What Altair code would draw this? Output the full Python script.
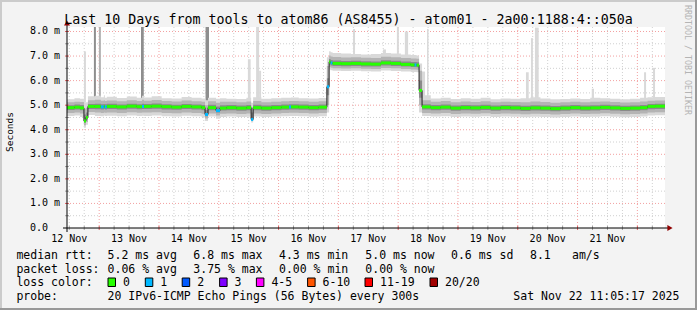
import altair as alt
import pandas as pd

# ---------------- data ----------------
# hours since window start (Nov 12 11:05:17), 10-day window
hours = [0.0, 3.0, 5.2, 6.8, 7.6, 8.4, 11.2, 13.6, 14.8, 15.2,
         16.0, 20.0, 24.0, 28.0, 30.1, 30.9, 34.0, 38.0, 42.0, 46.0,
         50.0, 54.0, 55.4, 56.6, 59.8, 61.4, 64.0, 68.0, 72.0, 73.9,
         74.7, 78.0, 82.0, 86.0, 89.1, 89.9, 93.0, 97.0, 101.0, 104.3,
         105.2, 105.8, 106.6, 110.0, 114.0, 118.0, 122.0, 126.0, 130.0, 134.0,
         138.0, 139.5, 140.3, 141.3, 142.5, 146.0, 150.0, 154.0, 158.0, 162.0,
         166.0, 170.0, 174.0, 178.0, 182.0, 186.0, 190.0, 194.0, 198.0, 202.0,
         206.0, 210.0, 214.0, 218.0, 222.0, 226.0, 230.0, 233.0, 236.0, 240.0]

# median rtt (ms)
median_ms = [4.90, 4.92, 4.89, 4.36, 4.50, 4.95, 4.95, 4.93, 4.95, 4.93,
             4.95, 4.93, 4.96, 4.94, 4.95, 4.95, 4.96, 4.94, 4.92, 4.95,
             4.93, 4.90, 4.62, 4.90, 4.78, 4.88, 4.90, 4.88, 4.90, 4.42,
             4.90, 4.88, 4.90, 4.92, 4.93, 4.93, 4.92, 4.90, 4.92, 5.75,
             6.76, 6.72, 6.70, 6.69, 6.70, 6.68, 6.67, 6.72, 6.70, 6.66,
             6.64, 6.64, 6.63, 5.60, 4.93, 4.90, 4.92, 4.88, 4.90, 4.89,
             4.91, 4.88, 4.90, 4.89, 4.87, 4.89, 4.88, 4.86, 4.88, 4.90,
             4.88, 4.89, 4.91, 4.89, 4.87, 4.88, 4.90, 4.95, 4.96, 4.96]

# loss bucket index (0 = no loss, 1 = 1 of 20 lost, ...)
loss_bucket = [0, 0, 0, 0, 0, 0, 0, 1, 0, 1,
               0, 0, 0, 0, 1, 0, 0, 0, 0, 0,
               0, 0, 1, 0, 1, 0, 0, 0, 0, 1,
               0, 0, 0, 0, 1, 0, 0, 0, 0, 1,
               0, 1, 0, 0, 0, 0, 0, 0, 0, 0,
               0, 1, 0, 0, 0, 0, 0, 0, 0, 0,
               0, 0, 0, 0, 0, 0, 0, 0, 0, 0,
               0, 0, 0, 0, 0, 0, 0, 0, 0, 0]

# smoke envelopes (outer / middle / inner)
smoke_lo3 = [4.56, 4.58, 4.52, 4.08, 4.20, 4.60, 4.56, 4.55, 4.58, 4.56,
             4.57, 4.55, 4.58, 4.56, 4.57, 4.56, 4.58, 4.55, 4.54, 4.57,
             4.55, 4.52, 4.36, 4.54, 4.45, 4.52, 4.54, 4.52, 4.53, 4.30,
             4.54, 4.52, 4.54, 4.55, 4.56, 4.56, 4.55, 4.53, 4.55, 4.70,
             6.45, 6.42, 6.40, 6.39, 6.40, 6.38, 6.37, 6.41, 6.39, 6.37,
             6.35, 6.35, 6.34, 4.70, 4.56, 4.54, 4.55, 4.52, 4.54, 4.53,
             4.55, 4.52, 4.54, 4.53, 4.51, 4.53, 4.52, 4.50, 4.52, 4.54,
             4.52, 4.53, 4.55, 4.53, 4.51, 4.52, 4.54, 4.58, 4.59, 4.59]
smoke_lo2 = [4.68, 4.70, 4.66, 4.18, 4.32, 4.72, 4.70, 4.68, 4.70, 4.69,
             4.70, 4.68, 4.71, 4.69, 4.70, 4.70, 4.71, 4.68, 4.67, 4.70,
             4.68, 4.65, 4.46, 4.66, 4.58, 4.65, 4.66, 4.64, 4.66, 4.36,
             4.66, 4.64, 4.66, 4.68, 4.69, 4.69, 4.68, 4.66, 4.68, 5.00,
             6.55, 6.52, 6.50, 6.49, 6.50, 6.48, 6.47, 6.51, 6.50, 6.47,
             6.45, 6.45, 6.44, 5.00, 4.68, 4.66, 4.68, 4.64, 4.66, 4.65,
             4.67, 4.64, 4.66, 4.65, 4.63, 4.65, 4.64, 4.62, 4.64, 4.66,
             4.64, 4.65, 4.67, 4.65, 4.63, 4.64, 4.66, 4.70, 4.71, 4.71]
smoke_lo1 = [4.80, 4.82, 4.79, 4.28, 4.42, 4.84, 4.83, 4.82, 4.84, 4.82,
             4.84, 4.82, 4.85, 4.83, 4.84, 4.84, 4.85, 4.82, 4.81, 4.84,
             4.82, 4.79, 4.55, 4.79, 4.70, 4.78, 4.79, 4.77, 4.79, 4.40,
             4.79, 4.77, 4.79, 4.81, 4.82, 4.82, 4.81, 4.79, 4.81, 5.40,
             6.66, 6.62, 6.60, 6.59, 6.60, 6.58, 6.57, 6.62, 6.60, 6.57,
             6.55, 6.55, 6.54, 5.30, 4.82, 4.79, 4.81, 4.77, 4.79, 4.78,
             4.80, 4.77, 4.79, 4.78, 4.76, 4.78, 4.77, 4.75, 4.77, 4.79,
             4.77, 4.78, 4.80, 4.78, 4.76, 4.77, 4.79, 4.83, 4.84, 4.84]
smoke_hi1 = [5.00, 5.03, 5.01, 4.62, 4.70, 5.05, 5.06, 5.04, 5.05, 5.04,
             5.06, 5.03, 5.06, 5.04, 5.06, 5.05, 5.07, 5.04, 5.02, 5.05,
             5.03, 5.01, 4.80, 5.02, 4.95, 5.00, 5.01, 4.99, 5.01, 4.70,
             5.02, 4.99, 5.01, 5.03, 5.04, 5.04, 5.03, 5.01, 5.03, 6.10,
             6.88, 6.84, 6.82, 6.80, 6.81, 6.79, 6.78, 6.83, 6.81, 6.78,
             6.76, 6.76, 6.75, 6.00, 5.04, 5.01, 5.03, 4.99, 5.01, 5.00,
             5.02, 4.99, 5.01, 5.00, 4.98, 5.00, 4.99, 4.97, 4.99, 5.01,
             4.99, 5.00, 5.02, 5.00, 4.98, 4.99, 5.01, 5.05, 5.06, 5.06]
smoke_hi2 = [5.12, 5.14, 5.13, 4.85, 4.90, 5.20, 5.22, 5.18, 5.20, 5.17,
             5.19, 5.16, 5.20, 5.17, 5.22, 5.18, 5.21, 5.17, 5.15, 5.19,
             5.16, 5.14, 5.00, 5.16, 5.10, 5.14, 5.14, 5.12, 5.15, 4.90,
             5.17, 5.12, 5.14, 5.16, 5.17, 5.17, 5.16, 5.14, 5.16, 6.60,
             7.02, 6.98, 6.96, 6.94, 6.95, 6.93, 6.92, 6.97, 6.95, 6.92,
             6.90, 6.90, 6.89, 6.40, 5.20, 5.14, 5.17, 5.12, 5.15, 5.13,
             5.16, 5.12, 5.14, 5.13, 5.12, 5.15, 5.13, 5.10, 5.12, 5.14,
             5.12, 5.14, 5.15, 5.13, 5.11, 5.12, 5.15, 5.18, 5.19, 5.19]
smoke_hi3 = [5.24, 5.28, 5.26, 5.10, 5.12, 5.36, 5.38, 5.32, 5.40, 5.30,
             5.34, 5.29, 5.35, 5.30, 5.38, 5.31, 5.36, 5.28, 5.27, 5.33,
             5.30, 5.27, 5.20, 5.30, 5.26, 5.28, 5.26, 5.25, 5.30, 5.10,
             5.32, 5.26, 5.28, 5.30, 5.30, 5.31, 5.28, 5.27, 5.29, 6.95,
             7.20, 7.16, 7.12, 7.10, 7.08, 7.06, 7.08, 7.12, 7.10, 7.06,
             7.04, 7.04, 7.02, 6.70, 5.40, 5.27, 5.30, 5.25, 5.28, 5.26,
             5.30, 5.24, 5.27, 5.26, 5.28, 5.32, 5.27, 5.24, 5.25, 5.27,
             5.25, 5.30, 5.28, 5.26, 5.24, 5.26, 5.30, 5.32, 5.33, 5.33]

# outlier pings (smoke spikes)
spike_start = [6.8, 10.8, 12.8, 29.7, 55.6, 72.6, 75.9, 77.1, 114.8, 126.8,
               132.4, 135.6, 142.5, 144.5, 184.2, 186.2, 187.8, 210.6, 231.6, 235.2]
spike_end = [7.6, 11.6, 13.6, 30.8, 57.0, 73.7, 77.1, 77.9, 115.6, 128.0,
             133.2, 136.9, 143.7, 145.1, 185.3, 187.0, 189.3, 211.5, 232.4, 236.0]
spike_base = [5.1, 5.0, 5.0, 5.0, 5.0, 5.0, 5.0, 5.0, 6.9, 6.9,
              6.9, 6.9, 5.0, 5.0, 5.0, 5.0, 5.0, 5.0, 5.0, 5.0]
spike_top = [7.19, 8.2, 8.2, 8.2, 8.2, 6.87, 8.2, 6.40, 8.1, 7.27,
             8.2, 8.0, 6.37, 8.1, 6.34, 7.73, 8.16, 5.67, 6.34, 6.52]
spike_shade = ["light", "dark", "mid", "dark", "dark", "light", "light", "light", "light", "light",
               "light", "light", "light", "light", "light", "light", "light", "light", "light", "light"]

day_labels = ["12 Nov", "13 Nov", "14 Nov", "15 Nov", "16 Nov",
              "17 Nov", "18 Nov", "19 Nov", "20 Nov", "21 Nov"]
y_tick_values = [0, 1, 2, 3, 4, 5, 6, 7, 8]
y_tick_labels = ["0.0", "1.0 m", "2.0 m", "3.0 m", "4.0 m", "5.0 m", "6.0 m", "7.0 m", "8.0 m"]

loss_labels = ["0", "1", "2", "3", "4-5", "6-10", "11-19", "20/20"]
loss_colors = ["#26ff00", "#00b8ff", "#0059ff", "#7e00ff", "#ff00ff", "#ff5500", "#ff0000", "#a10000"]

title_text = "Last 10 Days from tools to atom86 (AS8455) - atom01 - 2a00:1188:4::050a"
row_rtt = ["median rtt:", "5.2 ms avg", "6.8 ms max", "4.3 ms min", "5.0 ms now", "0.6 ms sd", "8.1", "am/s"]
row_loss = ["packet loss:", "0.06 % avg", "3.75 % max", "0.00 % min", "0.00 % now"]
row_probe = ["probe:", "20 IPv6-ICMP Echo Pings (56 Bytes) every 300s", "Sat Nov 22 11:05:17 2025"]

# ---------------- layout ----------------
W, H = 598, 201
Y_MAX = 8.183
FONT = "DejaVu Sans Mono"
NOON0 = 0.912  # first noon after window start (hours)

df = pd.DataFrame({"h": hours, "med": median_ms, "loss": loss_bucket,
                   "lo3": smoke_lo3, "lo2": smoke_lo2, "lo1": smoke_lo1,
                   "hi1": smoke_hi1, "hi2": smoke_hi2, "hi3": smoke_hi3})
df["h2"] = df["h"].shift(-1).fillna(df["h"].iloc[-1])
df["lossc"] = [loss_colors[b] for b in loss_bucket]

spk = pd.DataFrame({"s0": spike_start, "s1": spike_end, "base": spike_base,
                    "top": spike_top, "shade": spike_shade})

xs = alt.Scale(domain=[0, 240], nice=False, zero=False)
ys = alt.Scale(domain=[0, Y_MAX], nice=False, zero=False)


def X(f):
    return alt.X(f, scale=xs, axis=None)


def Y(f):
    return alt.Y(f, scale=ys, axis=None)


grid_minor_v = pd.DataFrame({"g": [NOON0 + 6 * k for k in range(40) if k % 4 != 2]})
grid_major_v = pd.DataFrame({"g": [NOON0 + 12 + 24 * k for k in range(10)]})
grid_minor_h = pd.DataFrame({"g": [0.5 + k for k in range(8)]})
grid_major_h = pd.DataFrame({"g": [1.0 + k for k in range(8)]})

layers = []
GRAY_GRID = "#d0d0d0"
RED_GRID = "#f3a0a0"
layers.append(alt.Chart(grid_minor_v).mark_rule(color=GRAY_GRID, strokeDash=[1, 2], strokeWidth=1).encode(x=X("g:Q")))
layers.append(alt.Chart(grid_minor_h).mark_rule(color=GRAY_GRID, strokeDash=[1, 2], strokeWidth=1).encode(y=Y("g:Q")))
layers.append(alt.Chart(grid_major_v).mark_rule(color=RED_GRID, strokeDash=[1, 2], strokeWidth=1).encode(x=X("g:Q")))
layers.append(alt.Chart(grid_major_h).mark_rule(color=RED_GRID, strokeDash=[1, 2], strokeWidth=1).encode(y=Y("g:Q")))

# spikes (one layer per shade, fixed colours)
for shade, col in [("light", "#d9d9d9"), ("mid", "#b2b2b2"), ("dark", "#8e8e8e")]:
    layers.append(alt.Chart(spk).transform_filter(alt.datum.shade == shade).mark_rect(clip=True, color=col).encode(
        x=X("s0:Q"), x2="s1:Q", y=Y("base:Q"), y2="top:Q"))

# smoke
for lo, hi, col in [("lo3", "hi3", "#d9d9d9"), ("lo2", "hi2", "#b4b4b4"), ("lo1", "hi1", "#8a8a8a")]:
    layers.append(alt.Chart(df).mark_area(interpolate="step-after", color=col, opacity=1).encode(
        x=X("h:Q"), y=Y(lo + ":Q"), y2=hi + ":Q"))

# median line and loss-coloured band
layers.append(alt.Chart(df).mark_line(interpolate="step-after", color="#202020", strokeWidth=1).encode(
    x=X("h:Q"), y=Y("med:Q")))
layers.append(alt.Chart(df).mark_rule(strokeWidth=3, strokeCap="butt").encode(
    x=X("h:Q"), x2="h2:Q", y=Y("med:Q"),
    color=alt.Color("lossc:N", scale=None, legend=None)))

# axis ticks
layers.append(alt.Chart(grid_minor_v).mark_rule(color="#a0a0a0").encode(
    x=X("g:Q"), y=alt.value(H - 2), y2=alt.value(H + 2)))
layers.append(alt.Chart(grid_major_v).mark_rule(color="#e06060").encode(
    x=X("g:Q"), y=alt.value(H - 2), y2=alt.value(H + 2)))
layers.append(alt.Chart(grid_minor_h).mark_rule(color="#a0a0a0").encode(
    y=Y("g:Q"), x=alt.value(-2), x2=alt.value(2)))
layers.append(alt.Chart(grid_major_h).mark_rule(color="#e06060").encode(
    y=Y("g:Q"), x=alt.value(-2), x2=alt.value(2)))

one = pd.DataFrame({"k": [0]})
# axis lines
layers.append(alt.Chart(one).mark_rule(color="black", strokeWidth=1).encode(
    x=alt.value(-4), x2=alt.value(W + 3), y=alt.value(H)))
layers.append(alt.Chart(one).mark_rule(color="black", strokeWidth=1).encode(
    x=alt.value(0), y=alt.value(H + 4), y2=alt.value(-3)))
layers.append(alt.Chart(one).mark_point(shape="triangle-up", filled=True, size=36, color="#900000", opacity=1).encode(
    x=alt.value(0), y=alt.value(-4)))
layers.append(alt.Chart(one).mark_point(shape="triangle-right", filled=True, size=36, color="#900000", opacity=1).encode(
    x=alt.value(W + 5), y=alt.value(H)))

# tick labels
xlab = pd.DataFrame({"v": [NOON0 + 24 * i for i in range(len(day_labels))], "t": day_labels})
ylab = pd.DataFrame({"v": y_tick_values, "t": y_tick_labels})
layers.append(alt.Chart(xlab).mark_text(font=FONT, fontSize=10, align="center", baseline="alphabetic", color="black").encode(
    x=X("v:Q"), y=alt.value(214.5), text="t:N"))
layers.append(alt.Chart(ylab).mark_text(font=FONT, fontSize=10, align="left", baseline="middle", color="black").encode(
    y=Y("v:Q"), x=alt.value(-37), text="t:N"))


def txt(s, x, y, size=11.5, align="left", baseline="alphabetic", angle=0, color="black"):
    return alt.Chart(one).mark_text(text=s, font=FONT, fontSize=size, align=align, baseline=baseline,
                                    angle=angle, color=color).encode(x=alt.value(x), y=alt.value(y))


layers.append(txt(title_text, 281.5, -3, size=13.3, align="center"))
layers.append(txt("Seconds", -57, 105, size=9.5, align="center", baseline="middle", angle=270))
layers.append(txt("RRDTOOL / TOBI OETIKER", 619.5, 33, size=8.3, align="center", baseline="middle",
                  angle=90, color="#b4b4b4"))

rtt_x = [-50.6, 40.6, 126.3, 212, 298.3, 384, 463, 505]
for s, x in zip(row_rtt, rtt_x):
    layers.append(txt(s, x, 231.5))
loss_x = [-50.6, 40.6, 126.3, 212, 298.3]
for s, x in zip(row_loss, loss_x):
    layers.append(txt(s, x, 245.5))
layers.append(txt("loss color:", -50.6, 259))
box_x = [41, 78.3, 115.2, 152.6, 189.4, 240.6, 298, 363]
for lab, col, bx in zip(loss_labels, loss_colors, box_x):
    layers.append(alt.Chart(one).mark_rect(fill=col, stroke="black", strokeWidth=1).encode(
        x=alt.value(bx), x2=alt.value(bx + 7.5), y=alt.value(251), y2=alt.value(259.5)))
    layers.append(txt(lab, bx + 15, 259))
probe_x = [-50.6, 40.6, 446.3]
for s, x in zip(row_probe, probe_x):
    layers.append(txt(s, x, 273))

# frame (3-D shade)
layers.append(alt.Chart(one).mark_rule(color="#cbcbcb", strokeWidth=2).encode(
    x=alt.value(-67), x2=alt.value(630), y=alt.value(-26)))
layers.append(alt.Chart(one).mark_rule(color="#cbcbcb", strokeWidth=2).encode(
    x=alt.value(-66), y=alt.value(-27), y2=alt.value(283)))
layers.append(alt.Chart(one).mark_rule(color="#999999", strokeWidth=2).encode(
    x=alt.value(-67), x2=alt.value(630), y=alt.value(282)))
layers.append(alt.Chart(one).mark_rule(color="#999999", strokeWidth=2).encode(
    x=alt.value(629), y=alt.value(-27), y2=alt.value(283)))

chart = alt.layer(*layers).properties(
    width=W, height=H,
    autosize=alt.AutoSizeParams(type="none"),
    padding={"left": 67, "top": 27, "right": 32, "bottom": 82},
    background="#f3f3f3",
).configure_view(fill="white", strokeWidth=0)

chart.save("out.html", embed_options={"renderer": "svg", "actions": False})
